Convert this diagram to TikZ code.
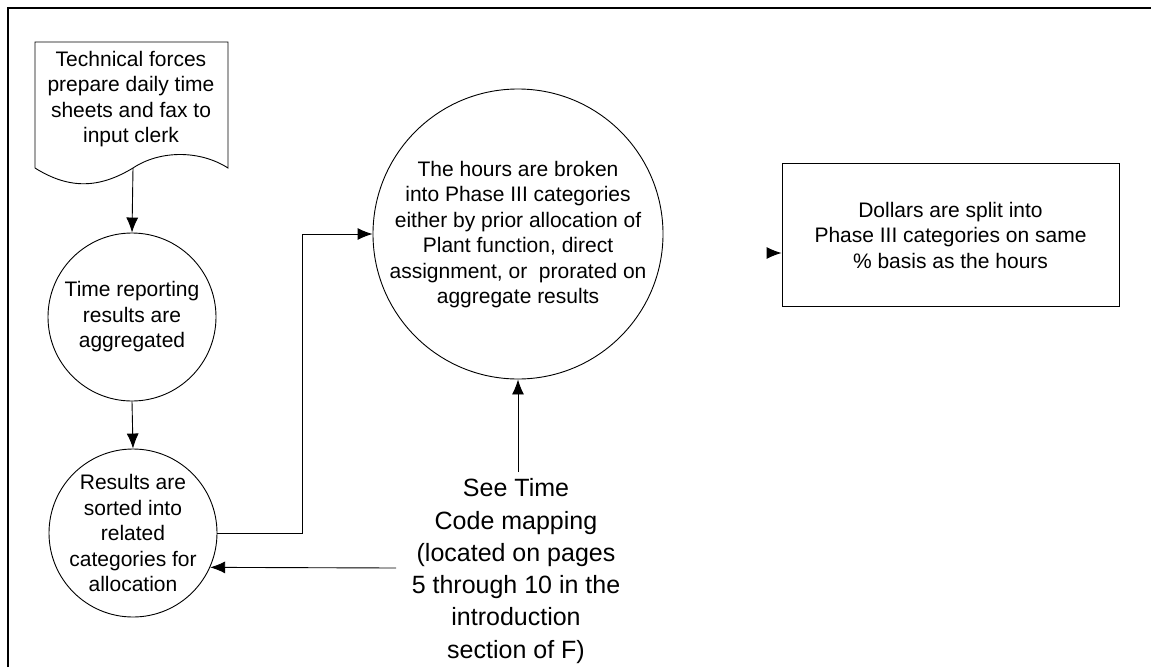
\documentclass[tikz,border=0pt]{standalone}
\usepackage{fontspec}
\setmainfont{Liberation Sans}
\usetikzlibrary{arrows.meta}
\begin{document}
\begin{tikzpicture}[x=1pt,y=-1pt,
  line width=0.9pt,
  txt/.style={align=center,font=\fontsize{21}{25.5}\selectfont,inner sep=0pt},
  bigtxt/.style={align=center,font=\fontsize{25}{32.3}\selectfont,inner sep=0pt},
  bubble/.style={draw,circle,inner sep=0pt},
  arr/.style={-{Latex[length=15pt,width=12pt]}},
  frame/.style={line width=1.2pt}]
\useasboundingbox (0,0) rectangle (1151,667);
% outer frame (open at right and bottom)
\draw[frame] (8,667) -- (8,8) -- (1151,8);
% document shape
\draw (35,168) -- (35,42) -- (228,42) -- (228,168)
  .. controls (200,150) and (160,150) .. (133,168)
  .. controls (100,188) and (70,190) .. (35,168);
\node[txt] (doc) at (131,99) {Technical forces\\prepare daily time\\sheets and fax to\\input clerk};
\coordinate (docbot) at (133,168);
% circles
\node[bubble,minimum size=168pt] (c1) at (132,317) {};
\node[txt] (t1) at (132,317) {Time reporting\\results are\\aggregated};
\node[bubble,minimum size=168pt] (c3) at (133,533) {};
\node[txt] (t3) at (133,533) {Results are\\sorted into\\related\\categories for\\allocation};
\node[bubble,minimum size=290pt] (c2) at (518,234) {};
\node[txt] (t2) at (518,234.5) {The hours are broken\\into Phase III categories\\either by prior allocation of\\Plant function, direct\\assignment, or\ \ prorated on\\aggregate results};
% box
\node[draw,minimum width=337pt,minimum height=143pt,inner sep=0pt] (box) at (950.5,234.5) {};
\node[txt] (tb) at (950.5,235) {Dollars are split into\\Phase III categories on same\\\% basis as the hours};
% see time text
\node[bigtxt] (see) at (516,571) {See Time\\Code mapping\\(located on pages\\5 through 10 in the\\introduction\\section of F)};
% connectors
\draw[arr] (docbot) -- (c1.north);
\draw[arr] (c1.south) -- (c3.north);
\coordinate (bend) at (302,533);
\draw[arr] (c3.east) -- (bend) |- (c2.west);
\coordinate (seeL) at (396,568);
\draw[arr] (seeL) -- (c3.-24.6);
\coordinate (seeT) at (518,472);
\draw[arr] (seeT) -- (c2.south);
\coordinate (boxin) at (767,253);
\draw[arr] (boxin) -- (box.west |- boxin);
\end{tikzpicture}
\end{document}
